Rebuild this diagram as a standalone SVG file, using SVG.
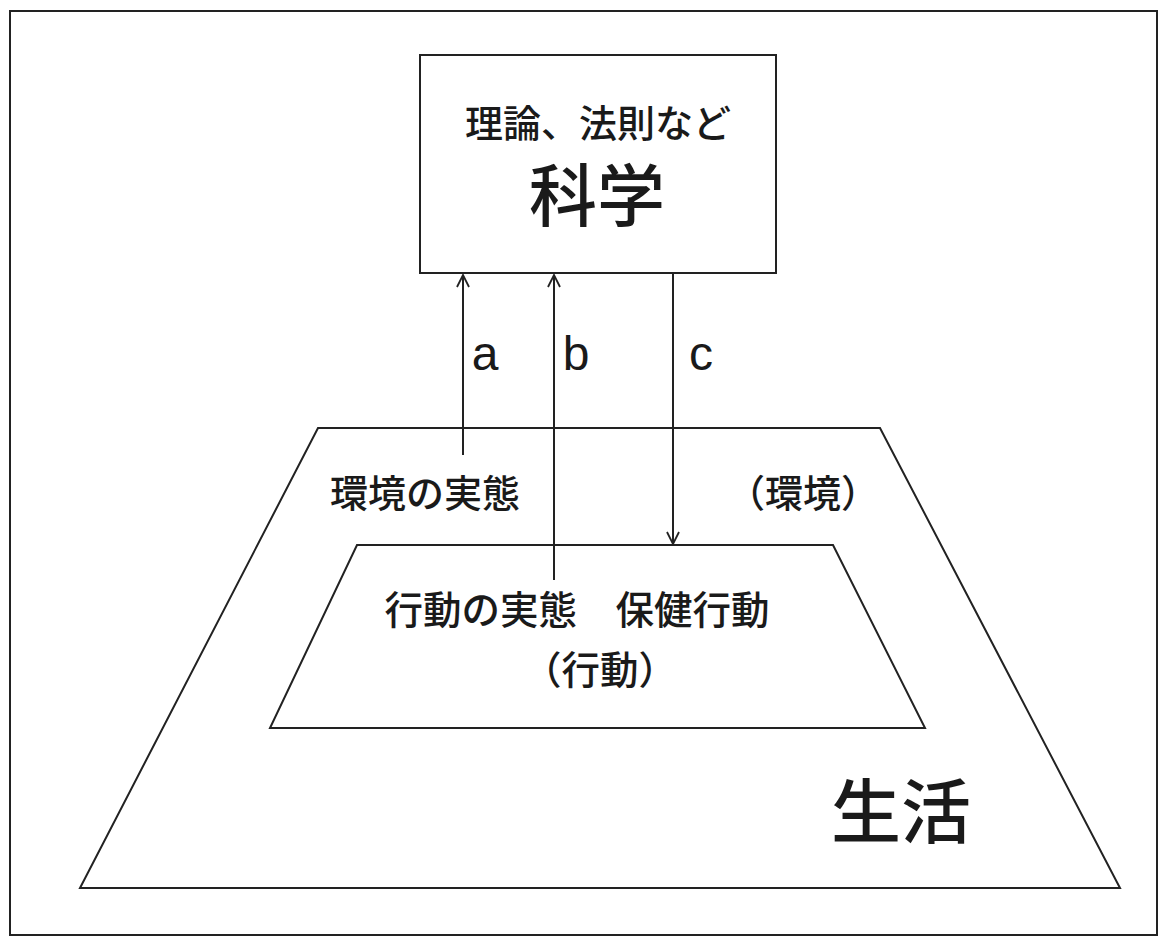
<svg xmlns="http://www.w3.org/2000/svg" width="1163" height="938" viewBox="0 0 1163 938">
<style>
.ln{fill:none;stroke:#222;stroke-width:2}
.jp{font-family:"Noto Sans CJK JP","Noto Sans CJK SC",sans-serif;fill:#1a1a1a;font-weight:500}
.lt{font-family:"Liberation Sans",Arial,sans-serif;fill:#1a1a1a}
</style>
<defs>
<marker id="arr" markerWidth="16" markerHeight="16" refX="14" refY="8" orient="auto" markerUnits="userSpaceOnUse">
<path d="M2,2 L14,8 L2,14" fill="none" stroke="#222" stroke-width="1.8"/>
</marker>
</defs>
<rect width="1163" height="938" fill="#fff"/>
<rect x="10" y="11" width="1147" height="924" class="ln" stroke-width="2.5"/>
<g id="life">
<polygon points="318,428 880,428 1120,888 80,888" class="ln"/>
<text x="901" y="838" class="jp" font-size="70" text-anchor="middle">生活</text>
<text x="425" y="507" class="jp" font-size="38" text-anchor="middle">環境の実態</text>
<text x="803" y="507" class="jp" font-size="38" text-anchor="middle">（環境）</text>
</g>
<g id="behavior">
<polygon points="357,545 833,545 925,728 270,728" class="ln"/>
<text x="577" y="624" class="jp" font-size="38.5" text-anchor="middle">行動の実態　保健行動</text>
<text x="600" y="684" class="jp" font-size="38.5" text-anchor="middle">（行動）</text>
</g>
<g id="science">
<rect x="420" y="55" width="356" height="218" class="ln"/>
<text x="598" y="137" class="jp" font-size="38" text-anchor="middle">理論、法則など</text>
<text x="597" y="221" class="jp" font-size="68" text-anchor="middle">科学</text>
</g>
<g id="connectors">
<line x1="463" y1="455" x2="463" y2="275" class="ln" stroke-width="1.6" marker-end="url(#arr)"/>
<line x1="554" y1="580" x2="554" y2="275" class="ln" stroke-width="1.6" marker-end="url(#arr)"/>
<line x1="673" y1="273" x2="673" y2="544" class="ln" stroke-width="1.6" marker-end="url(#arr)"/>
<text x="485" y="370" class="lt" font-size="48" text-anchor="middle">a</text>
<text x="576" y="370" class="lt" font-size="48" text-anchor="middle">b</text>
<text x="701" y="370" class="lt" font-size="48" text-anchor="middle">c</text>
</g>
</svg>
